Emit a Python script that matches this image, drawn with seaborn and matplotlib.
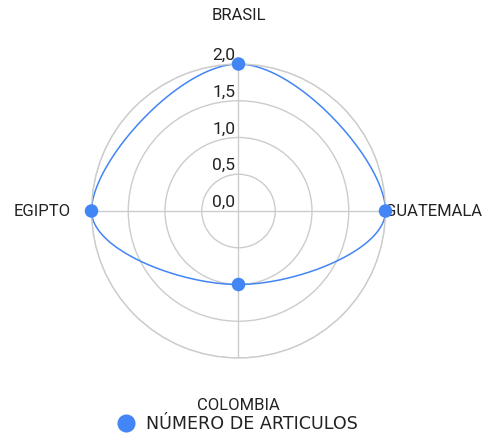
import numpy as np
import pandas as pd
import matplotlib
matplotlib.use("Agg")
import matplotlib.pyplot as plt
import seaborn as sns
from matplotlib.transforms import offset_copy
from matplotlib.lines import Line2D

categories = ["BRASIL", "GUATEMALA", "COLOMBIA", "EGIPTO"]
values = [2.0, 2.0, 1.0, 2.0]
series_name = "NÚMERO DE ARTICULOS"
tick_values = [0.0, 0.5, 1.0, 1.5, 2.0]
tick_labels = ["0,0", "0,5", "1,0", "1,5", "2,0"]

BLUE = "#4285f4"
GRID = "#cccccc"
TEXT = "#222222"

sns.set_theme(style="white")
plt.rcParams['font.family'] = ['Roboto', 'DejaVu Sans']

fig = plt.figure(figsize=(4.85, 4.34), dpi=100)
R = 147
cx, cy = 238.5, 434 - 211
ax = fig.add_axes([(cx - R) / 485, (cy - R) / 434, 2 * R / 485, 2 * R / 434], projection="polar")
ax.set_theta_zero_location("N")
ax.set_theta_direction(-1)
ax.set_ylim(0, 2.0)

n = len(categories)
theta = np.arange(n) * 2 * np.pi / n
vals = np.array(values)

# closed Chart.js-like spline in cartesian space
px = vals * np.sin(theta)
py = vals * np.cos(theta)
tension = 0.4
curve_x, curve_y = [], []
cps = []
for i in range(n):
    p0 = np.array([px[i - 1], py[i - 1]])
    p1 = np.array([px[i], py[i]])
    p2 = np.array([px[(i + 1) % n], py[(i + 1) % n]])
    d01 = np.hypot(*(p1 - p0))
    d12 = np.hypot(*(p2 - p1))
    fa = tension * d01 / (d01 + d12)
    fb = tension * d12 / (d01 + d12)
    cps.append((p1 - fa * (p2 - p0), p1 + fb * (p2 - p0)))
t = np.linspace(0, 1, 80)[:, None]
for i in range(n):
    j = (i + 1) % n
    a = np.array([px[i], py[i]])
    b = cps[i][1]
    c = cps[j][0]
    d = np.array([px[j], py[j]])
    seg = (1 - t) ** 3 * a + 3 * (1 - t) ** 2 * t * b + 3 * (1 - t) * t ** 2 * c + t ** 3 * d
    curve_x.extend(seg[:, 0])
    curve_y.extend(seg[:, 1])
curve_x = np.array(curve_x)
curve_y = np.array(curve_y)
c_theta = np.unwrap(np.arctan2(curve_x, curve_y))
c_r = np.hypot(curve_x, curve_y)

curve_df = pd.DataFrame({"theta": c_theta, "r": c_r, "order": np.arange(len(c_r))})
pts_df = pd.DataFrame({"theta": theta, "r": vals, "cat": categories})

sns.lineplot(data=curve_df, x="theta", y="r", sort=False, estimator=None,
             color=BLUE, linewidth=1.1, ax=ax)
sns.scatterplot(data=pts_df, x="theta", y="r", color=BLUE, s=95, edgecolor="none",
                ax=ax, zorder=5, clip_on=False)

ax.set_xlabel("")
ax.set_ylabel("")
ax.set_xticks(theta)
ax.set_xticklabels([])
ax.set_yticks(tick_values[1:])
ax.set_yticklabels([])
ax.grid(True, color=GRID, linewidth=1.0)
ax.spines["polar"].set_color(GRID)
ax.spines["polar"].set_linewidth(1.0)
ax.tick_params(length=0)

# radial tick labels
tr = offset_copy(ax.transData, fig=fig, x=-3, y=4, units="dots")
for v, lab in zip(tick_values, tick_labels):
    ax.text(0, v, lab, transform=tr, ha="right", va="baseline",
            fontsize=12.5, color=TEXT)

# category labels
label_pos = {"BRASIL": (2.665, "center", "center"),
             "GUATEMALA": (2.0, "left", "center"),
             "COLOMBIA": (2.64, "center", "center"),
             "EGIPTO": (2.28, "right", "center")}
for th, cat in zip(theta, categories):
    r, ha, va = label_pos[cat]
    ax.text(th, r, cat, ha=ha, va=va, fontsize=12.0, color=TEXT, clip_on=False,
            zorder=1)

handle = Line2D([], [], marker="o", linestyle="none", markersize=12,
                markerfacecolor=BLUE, markeredgecolor=BLUE)
fig.legend([handle], [series_name], loc="center", bbox_to_anchor=(0.49, 0.022),
           frameon=False, handlelength=1.0, handletextpad=0.6, labelcolor=TEXT,
           prop={"family": "DejaVu Sans", "size": 12.6})

fig.savefig("out.png", dpi=100)
